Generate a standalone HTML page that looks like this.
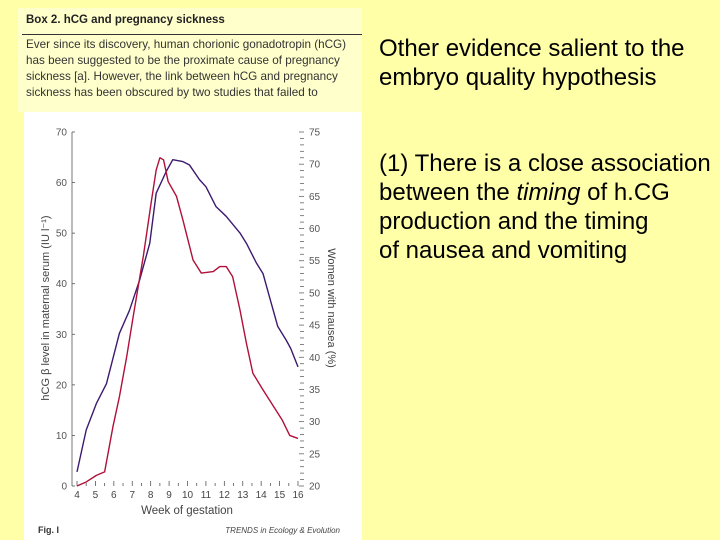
<!DOCTYPE html>
<html><head><meta charset="utf-8"><style>
body{margin:0;width:720px;height:540px;background:#ffffa8;position:relative;overflow:hidden;font-family:"Liberation Sans",sans-serif}
#box{position:absolute;left:18px;top:8px;width:344px;height:104px;background:#ffffcc}
#chart{position:absolute;left:24px;top:112px;width:338px;height:428px;background:#fff}
.rt{position:absolute;left:379px;font-size:24px;color:#000;line-height:29px;white-space:nowrap}
</style></head><body>
<div id="box">
 <div style="position:absolute;left:8px;top:6px;font-size:11.5px;font-weight:bold;color:#222">Box 2. hCG and pregnancy sickness</div>
 <div style="position:absolute;left:4px;top:26px;width:340px;border-top:1px solid #333"></div>
 <div style="position:absolute;left:8px;top:29px;font-size:11.7px;line-height:16px;color:#333;white-space:nowrap">Ever since its discovery, human chorionic gonadotropin (hCG)<br>has been suggested to be the proximate cause of pregnancy<br>sickness [a]. However, the link between hCG and pregnancy<br>sickness has been obscured by two studies that failed to</div>
</div>
<div id="chart"></div>
<svg width="720" height="540" style="position:absolute;left:0;top:0" id="svg"></svg>
<div class="rt" style="top:34px">Other evidence salient to the<br>embryo quality hypothesis</div>
<div class="rt" style="top:149px">(1) There is a close association<br>between the <i>timing</i> of h.CG<br>production and the timing<br>of nausea and vomiting</div>
<script>
const hcgWeeks=[4,4.5,5.05,5.5,5.95,6.3,6.7,7.05,7.6,8.05,8.3,8.5,8.7,8.95,9.4,9.75,10.3,10.75,11.4,11.75,12.1,12.45,12.85,13.2,13.55,14.1,14.8,15.15,15.55,16];
const hcgValues=[0,0.8,2.1,2.8,11.7,17.6,25.6,33.5,45.4,56.6,62.5,64.9,64.5,60.2,57.3,52.6,44.7,42.1,42.4,43.4,43.4,41.4,34.8,28.2,22.3,19,15,13,10,9.4];
const nauseaWeeks=[4,4.5,5.05,5.6,6.3,6.85,7.4,7.95,8.3,8.85,9.2,9.75,10.1,10.65,11,11.55,12.1,12.85,13.2,13.75,14.1,14.45,14.9,15.35,15.6,16];
const nauseaValues=[22.2,28.7,32.8,35.9,43.7,47.3,52,57.7,65.5,68.9,70.7,70.4,69.9,67.6,66.5,63.4,61.9,59.3,57.7,54.6,53,49.4,44.8,42.7,41.4,38.5];
const xTicks=[4,5,6,7,8,9,10,11,12,13,14,15,16];
const leftTicks=[0,10,20,30,40,50,60,70];
const rightTicks=[20,25,30,35,40,45,50,55,60,65,70,75];
const NS="http://www.w3.org/2000/svg",svg=document.getElementById('svg');
const X=w=>77+(w-4)*(298-77)/12;
const YL=v=>486-v*(354/70);
const YR=v=>486-(v-20)*(354/55);
function el(t,a,txt){const e=document.createElementNS(NS,t);for(const k in a)e.setAttribute(k,a[k]);if(txt!=null)e.textContent=txt;svg.appendChild(e);return e;}
let e=el('line',{x1:72,y1:YL(70),x2:72,y2:YL(0),stroke:'#555','stroke-width':0.8});

leftTicks.forEach(v=>{el('line',{x1:72,y1:YL(v),x2:75,y2:YL(v),stroke:'#555','stroke-width':0.8});
 const t=el('text',{x:67,y:YL(v)+3.5,'text-anchor':'end','font-size':10,fill:'#555'},v);
 });
for(let v=20;v<=75;v++){const maj=v%5==0;el('line',{x1:maj?299:300,y1:YR(v),x2:304,y2:YR(v),stroke:'#666','stroke-width':0.8});}
rightTicks.forEach(v=>{const t=el('text',{x:309,y:YR(v)+3.5,'font-size':10,fill:'#555'},v);
 });
xTicks.forEach(w=>{el('line',{x1:X(w),y1:486,x2:X(w),y2:481,stroke:'#555','stroke-width':0.8});
 if(w<16)el('line',{x1:X(w+0.5),y1:486,x2:X(w+0.5),y2:483,stroke:'#555','stroke-width':0.8});
 const t=el('text',{x:X(w),y:498,'text-anchor':'middle','font-size':10,fill:'#444'},w);
 });
e=el('text',{x:187,y:514,'text-anchor':'middle','font-size':11.5,fill:'#444'},'Week of gestation');

e=el('text',{x:0,y:0,transform:'translate(49,308) rotate(-90)','text-anchor':'middle','font-size':11,fill:'#444'},'hCG β level in maternal serum (IU l⁻¹)');

e=el('text',{x:0,y:0,transform:'translate(328,308) rotate(90)','text-anchor':'middle','font-size':11,fill:'#444'},'Women with nausea (%)');

e=el('polyline',{points:nauseaWeeks.map((w,i)=>X(w)+','+YR(nauseaValues[i])).join(' '),fill:'none',stroke:'#3c1a70','stroke-width':1.4,'stroke-linejoin':'round'});

e=el('polyline',{points:hcgWeeks.map((w,i)=>X(w)+','+YL(hcgValues[i])).join(' '),fill:'none',stroke:'#b0103a','stroke-width':1.4,'stroke-linejoin':'round'});

e=el('text',{x:38,y:533,'font-size':9,'font-weight':'bold',fill:'#333'},'Fig. I');

e=el('text',{x:340,y:533,'text-anchor':'end','font-size':8,'font-style':'italic',fill:'#444'},'TRENDS in Ecology & Evolution');

</script>
</body></html>
